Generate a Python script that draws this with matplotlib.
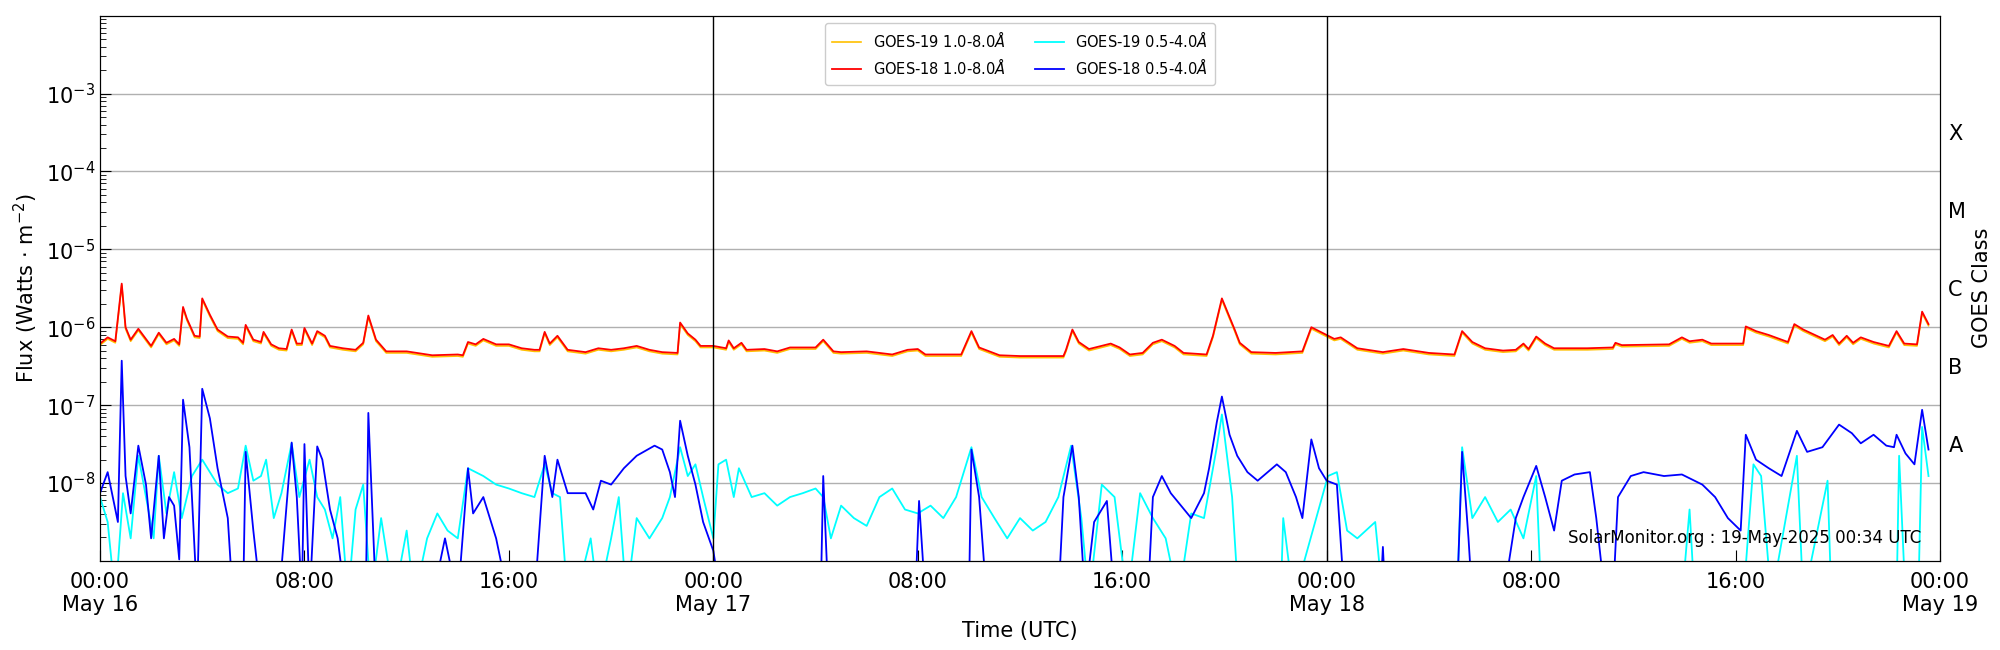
import numpy as np
import matplotlib
matplotlib.use("Agg")
import matplotlib.pyplot as plt
from matplotlib.ticker import LogLocator, NullFormatter

# hours since 2025-05-16 00:00 UTC ; values are log10 flux (W m^-2)
xl_t = [0,0.3,0.6,0.85,1.0,1.2,1.5,2.0,2.3,2.6,2.9,3.1,3.25,3.4,3.7,3.9,4.0,4.3,4.6,5.0,5.4,5.6,5.7,6.0,6.3,6.4,6.7,7.0,7.3,7.5,7.7,7.9,8.0,8.3,8.5,8.8,9.0,9.5,10.0,10.3,10.5,10.8,11.2,12,13,14,14.2,14.4,14.7,15,15.5,16,16.5,17,17.2,17.4,17.6,17.9,18.3,19,19.5,20,20.5,21,21.5,22,22.6,22.7,23,23.3,23.5,24,24.5,24.6,24.8,25.1,25.3,26,26.5,27,28,28.3,28.7,29,30,31,31.6,32,32.3,33,33.7,34.1,34.4,35.2,36,37.7,37.8,38.05,38.3,38.7,39.55,39.9,40.3,40.8,41.2,41.55,42.05,42.4,43.3,43.55,43.9,44.4,44.6,45.05,46.0,47.05,47.4,47.7,48.0,48.3,48.55,49.2,50.2,51.0,52.0,53.0,53.3,53.7,54.2,54.9,55.4,55.7,55.9,56.2,56.55,56.9,58.2,59.2,59.3,59.55,61.4,61.9,62.2,62.7,63.05,64.3,64.4,64.8,65.3,66.05,66.3,66.65,67.5,67.8,68.05,68.35,68.6,68.9,69.4,70.0,70.3,70.6,71.1,71.3,71.55]
xl_g18 = [-6.21,-6.13,-6.18,-5.44,-6.0,-6.16,-6.02,-6.24,-6.07,-6.20,-6.15,-6.22,-5.74,-5.89,-6.11,-6.12,-5.63,-5.84,-6.03,-6.12,-6.13,-6.20,-5.97,-6.16,-6.19,-6.06,-6.22,-6.27,-6.28,-6.03,-6.21,-6.21,-6.01,-6.21,-6.05,-6.11,-6.24,-6.27,-6.29,-6.20,-5.85,-6.16,-6.31,-6.31,-6.36,-6.35,-6.36,-6.19,-6.22,-6.15,-6.22,-6.22,-6.27,-6.29,-6.29,-6.06,-6.21,-6.11,-6.29,-6.32,-6.27,-6.29,-6.27,-6.24,-6.29,-6.32,-6.33,-5.94,-6.08,-6.16,-6.24,-6.24,-6.27,-6.17,-6.27,-6.20,-6.29,-6.28,-6.31,-6.26,-6.26,-6.16,-6.31,-6.32,-6.31,-6.35,-6.29,-6.28,-6.35,-6.35,-6.35,-6.05,-6.26,-6.36,-6.37,-6.37,-6.29,-6.03,-6.19,-6.28,-6.21,-6.26,-6.35,-6.33,-6.20,-6.16,-6.24,-6.33,-6.35,-6.11,-5.63,-6.03,-6.20,-6.32,-6.33,-6.31,-6.0,-6.05,-6.10,-6.15,-6.13,-6.27,-6.32,-6.28,-6.33,-6.35,-6.05,-6.19,-6.27,-6.30,-6.29,-6.21,-6.28,-6.12,-6.21,-6.27,-6.27,-6.26,-6.20,-6.23,-6.22,-6.13,-6.18,-6.16,-6.21,-6.21,-5.99,-6.05,-6.10,-6.19,-5.96,-6.03,-6.16,-6.10,-6.21,-6.11,-6.20,-6.13,-6.19,-6.24,-6.05,-6.21,-6.22,-5.80,-5.96]
xl_g19 = [v - 0.02 for v in xl_g18]

xs18_t = [0,0.3,0.5,0.7,0.85,1.0,1.2,1.5,1.8,2.0,2.3,2.5,2.7,2.9,3.1,3.25,3.5,3.8,4.0,4.3,4.6,5.0,5.2,5.6,5.7,6.0,6.3,7.0,7.5,7.7,7.9,8.0,8.2,8.5,8.7,9.0,9.3,9.6,10.4,10.5,10.8,13,13.5,14,14.4,14.6,15,15.5,16,17,17.4,17.7,17.9,18.3,19,19.3,19.6,20,20.5,21,21.7,22,22.3,22.5,22.7,23,23.3,23.6,24,24.3,28.2,28.3,28.5,31.9,32.05,32.3,34.0,34.1,34.4,34.7,37.5,37.7,38.05,38.3,38.55,38.9,39.4,39.7,41.0,41.2,41.55,41.9,42.3,42.7,43.2,43.4,43.7,43.9,44.2,44.5,44.9,45.3,46.05,46.4,46.8,47.05,47.4,47.7,48.0,48.4,48.7,50.1,50.2,50.3,53.1,53.3,53.55,53.7,54.9,55.4,55.7,56.2,56.55,56.9,57.2,57.7,58.3,58.55,58.9,59.2,59.4,59.9,60.4,61.2,61.9,62.7,63.2,63.7,64.2,64.4,64.8,65.3,65.8,66.4,66.8,67.4,68.05,68.55,68.9,69.4,69.9,70.2,70.3,70.65,71.0,71.3,71.55]
xs18 = [-8.13,-7.86,-8.18,-8.50,-6.43,-7.91,-8.39,-7.52,-8.02,-8.71,-7.65,-8.71,-8.18,-8.29,-8.98,-6.93,-7.54,-9.5,-6.79,-7.17,-7.81,-8.45,-9.5,-9.5,-7.60,-8.61,-9.5,-9.5,-7.48,-8.18,-9.5,-7.50,-9.5,-7.53,-7.70,-8.34,-8.71,-9.5,-9.5,-7.10,-9.5,-9.5,-8.71,-9.5,-7.81,-8.39,-8.18,-8.71,-9.5,-9.5,-7.65,-8.18,-7.70,-8.13,-8.13,-8.34,-7.97,-8.02,-7.81,-7.65,-7.52,-7.57,-7.86,-8.18,-7.20,-7.65,-8.02,-8.50,-8.87,-9.5,-9.5,-7.91,-9.5,-9.5,-8.23,-9.5,-9.5,-7.57,-8.18,-9.5,-9.5,-8.18,-7.52,-8.18,-9.5,-8.50,-8.23,-9.5,-9.5,-8.18,-7.91,-8.13,-8.29,-8.45,-8.13,-7.81,-7.22,-6.89,-7.38,-7.65,-7.86,-7.97,-7.76,-7.86,-8.18,-8.45,-7.44,-7.81,-7.97,-8.02,-9.5,-9.5,-8.82,-9.5,-9.5,-7.60,-8.71,-9.5,-9.5,-8.45,-8.18,-7.78,-8.18,-8.61,-7.97,-7.89,-7.86,-8.45,-9.5,-9.5,-8.18,-7.91,-7.86,-7.91,-7.89,-8.02,-8.18,-8.45,-8.61,-7.38,-7.70,-7.81,-7.91,-7.33,-7.60,-7.54,-7.25,-7.36,-7.49,-7.38,-7.52,-7.54,-7.38,-7.62,-7.76,-7.06,-7.57]

xs19_t = [0,0.3,0.6,0.9,1.2,1.5,1.8,2.1,2.3,2.6,2.9,3.2,3.6,4,4.3,4.6,5,5.4,5.7,6,6.3,6.5,6.8,7.1,7.5,7.8,8.2,8.5,8.8,9.1,9.4,9.7,10,10.3,10.6,11,11.5,12,12.3,12.8,13.2,13.6,14,14.4,14.7,15,15.5,16,16.5,17,17.4,17.7,18,18.3,18.6,19.2,19.5,20,20.3,20.6,21,21.5,22,22.3,22.7,23,23.3,23.6,24,24.2,24.5,24.8,25,25.5,26,26.5,27,27.5,28,28.3,28.6,29,29.5,30,30.5,31,31.5,32,32.5,33,33.5,34.1,34.5,35,35.5,36,36.5,37,37.5,38.0,38.4,38.7,39.2,39.7,40.2,40.7,41.2,41.7,42.2,42.7,43.2,43.7,43.9,44.3,44.55,46.2,46.3,46.7,48.05,48.4,48.8,49.2,49.9,50.2,53.1,53.3,53.7,54.2,54.7,55.2,55.7,56.2,56.4,61.9,62.2,62.4,64.3,64.7,65.0,65.4,66.4,66.65,67.6,67.75,70.3,70.4,70.65,71.15,71.3,71.55]
xs19 = [-8.18,-8.50,-9.5,-8.13,-8.71,-7.65,-8.18,-8.71,-7.65,-8.39,-7.86,-8.45,-7.91,-7.70,-7.86,-8.02,-8.13,-8.07,-7.52,-7.97,-7.91,-7.70,-8.45,-8.13,-7.49,-8.18,-7.70,-8.18,-8.34,-8.71,-8.18,-9.5,-8.34,-8.02,-9.5,-8.45,-9.5,-8.61,-9.5,-8.71,-8.39,-8.61,-8.71,-7.81,-7.86,-7.91,-8.02,-8.07,-8.13,-8.18,-7.76,-8.13,-8.18,-9.5,-9.5,-8.71,-9.5,-8.71,-8.18,-9.5,-8.45,-8.71,-8.45,-8.18,-7.54,-7.91,-7.76,-8.18,-8.71,-7.76,-7.70,-8.18,-7.81,-8.18,-8.13,-8.29,-8.18,-8.13,-8.07,-8.18,-8.71,-8.29,-8.45,-8.55,-8.18,-8.07,-8.34,-8.39,-8.29,-8.45,-8.18,-7.54,-8.18,-8.45,-8.71,-8.45,-8.61,-8.50,-8.18,-7.52,-8.45,-9.5,-8.02,-8.18,-9.5,-8.13,-8.45,-8.71,-9.5,-8.39,-8.45,-7.54,-7.12,-8.18,-9.5,-9.5,-8.45,-9.5,-7.91,-7.86,-8.61,-8.71,-8.50,-9.5,-9.5,-7.54,-8.45,-8.18,-8.50,-8.34,-8.71,-7.91,-9.5,-9.5,-8.34,-9.5,-9.5,-7.76,-7.91,-9.5,-7.65,-9.5,-7.97,-9.5,-9.5,-7.65,-9.5,-9.5,-7.28,-7.91]

tick_hours = [0, 8, 16, 24, 32, 40, 48, 56, 64, 72]
tick_labels = ["00:00\nMay 16", "08:00", "16:00", "00:00\nMay 17", "08:00", "16:00",
               "00:00\nMay 18", "08:00", "16:00", "00:00\nMay 19"]
day_lines = [24, 48]
classes = ["A", "B", "C", "M", "X"]
class_pos = [10**-7.5, 10**-6.5, 10**-5.5, 10**-4.5, 10**-3.5]

fig = plt.figure(figsize=(20, 6.5), dpi=100)
ax = fig.add_axes([0.05, 0.137, 0.92, 0.839])
p = lambda a: 10.0 ** np.asarray(a)
ax.plot(xl_t, p(xl_g19), color="#ffc000", lw=1.2, label="GOES-19 1.0-8.0$\\AA$")
ax.plot(xl_t, p(xl_g18), color="red", lw=1.3, label="GOES-18 1.0-8.0$\\AA$")
ax.plot(xs19_t, p(xs19), color="cyan", lw=1.3, label="GOES-19 0.5-4.0$\\AA$")
ax.plot(xs18_t, p(xs18), color="blue", lw=1.3, label="GOES-18 0.5-4.0$\\AA$")
ax.set_yscale("log")
ax.set_ylim(1e-9, 1e-2)
ax.set_xlim(0, 72)
ax.set_yticks([1e-8, 1e-7, 1e-6, 1e-5, 1e-4, 1e-3])
ax.yaxis.set_minor_locator(LogLocator(base=10, subs=np.arange(2, 10), numticks=20))
ax.yaxis.set_minor_formatter(NullFormatter())
ax.grid(axis="y", which="major", color="#b0b0b0", lw=1)
for d in day_lines:
    ax.axvline(d, color="black", lw=1)
ax.set_xticks(tick_hours)
ax.set_xticklabels(tick_labels)
ax.tick_params(which="both", direction="in", labelsize=15, right=True)
ax.tick_params(which="major", length=8)
ax.tick_params(which="minor", length=4)
ax.tick_params(axis="x", pad=8)
ax.set_xlabel("Time (UTC)", fontsize=15)
ax.set_ylabel("Flux (Watts $\\cdot$ m$^{-2}$)", fontsize=15)
ax2 = ax.twinx()
ax2.set_yscale("log")
ax2.set_ylim(1e-9, 1e-2)
ax2.set_yticks(class_pos)
ax2.set_yticklabels(classes)
ax2.yaxis.set_minor_formatter(NullFormatter())
ax2.tick_params(which="both", length=0, labelsize=15, pad=6)
ax2.set_ylabel("GOES Class", fontsize=15)
ax.legend(loc="upper center", ncol=2, fontsize=10.5, framealpha=1, borderpad=0.5)
ax.text(0.99, 0.025, "SolarMonitor.org : 19-May-2025 00:34 UTC", transform=ax.transAxes,
        ha="right", va="bottom", fontsize=12)
fig.savefig("out.png", dpi=100)
